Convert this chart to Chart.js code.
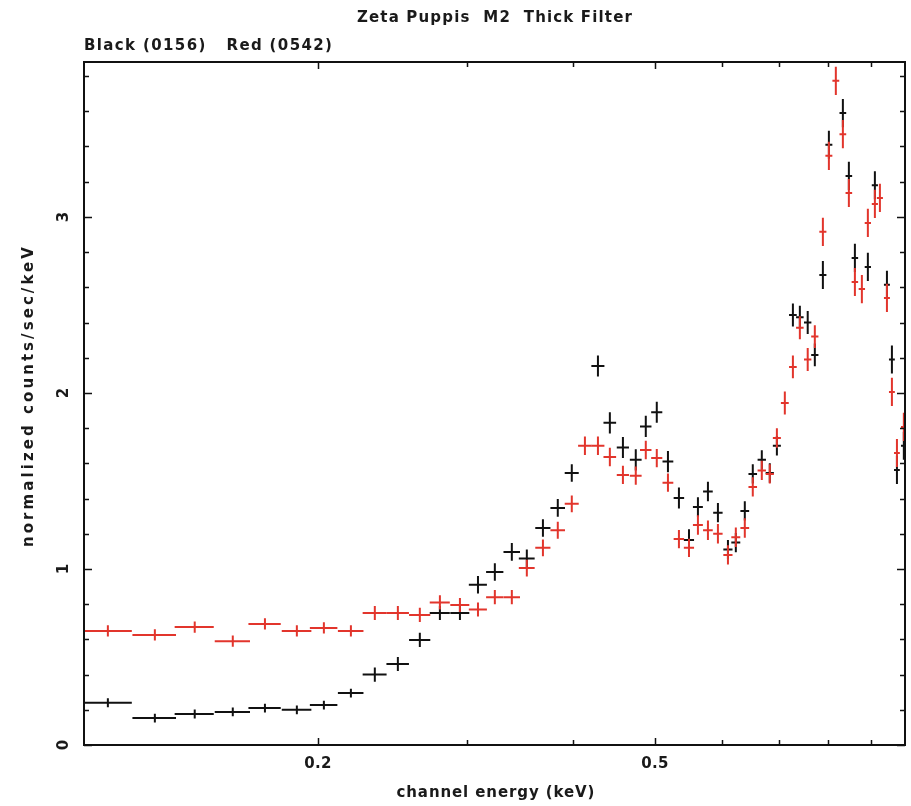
<!DOCTYPE html>
<html><head><meta charset="utf-8">
<script src="https://cdn.jsdelivr.net/npm/chart.js@4/dist/chart.umd.min.js"></script>
<style>html,body{margin:0;padding:0;background:#fff;}#wrap{width:911px;height:806px;position:relative;}</style>
</head><body><div id="wrap"><canvas id="c" width="911" height="806"></canvas></div>
<script>
const titleText = 'Zeta Puppis  M2  Thick Filter';
const subtitleText = 'Black (0156)   Red (0542)';
const xAxisTitle = 'channel energy (keV)';
const yAxisTitle = 'normalized counts/sec/keV';

const energy = [0.1130,0.1284,0.1431,0.1587,0.1732,0.1889,0.2033,0.2188,0.2335,0.2486,
  0.2639,0.2787,0.2943,0.3091,0.3236,0.3389,0.3530,0.3688,0.3840,0.3989,
  0.4134,0.4283,0.4424,0.4584,0.4747,0.4878,0.5026,0.5181,0.5338,0.5486,
  0.5621,0.5776,0.5935,0.6099,0.6231,0.6385,0.6525,0.6687,0.6834,0.6967,
  0.7119,0.7277,0.7416,0.7576,0.7724,0.7895,0.8025,0.8178,0.8336,0.8473,
  0.8613,0.8778,0.8922,0.9094,0.9219,0.9397,0.9525,0.9656,0.9839];
const binHalfWidth = 0.0076;

const blackRate = [0.24,0.153,0.176,0.188,0.21,0.20,0.227,0.295,0.40,0.46,
  0.597,0.75,0.75,0.91,0.983,1.097,1.06,1.233,1.347,1.545,
  null,2.153,1.83,1.69,1.62,1.81,1.89,1.61,1.403,1.165,
  1.352,1.44,1.32,1.11,1.15,1.33,1.54,1.62,1.545,1.70,
  null,2.443,2.43,2.40,2.216,2.67,3.41,null,3.59,3.233,
  2.767,null,2.716,3.18,null,2.614,2.19,1.5625,1.70];
const blackErr = [0.025,0.025,0.025,0.025,0.025,0.025,0.025,0.025,0.04,0.04,
  0.04,0.04,0.04,0.05,0.05,0.05,0.05,0.05,0.05,0.05,
  0.06,0.06,0.06,0.06,0.06,0.06,0.06,0.06,0.06,0.06,
  0.055,0.055,0.055,0.055,0.055,0.055,0.055,0.055,0.055,0.055,
  0.065,0.065,0.065,0.065,0.065,0.08,0.08,0.08,0.08,0.08,
  0.08,0.08,0.08,0.08,0.08,0.08,0.08,0.08,0.08];

const redRate = [0.648,0.625,0.67,0.59,0.688,0.648,0.665,0.648,0.75,0.75,
  0.739,0.81,0.795,0.77,0.84,0.84,1.005,1.12,1.22,1.37,
  1.70,1.70,1.636,1.534,1.53,1.676,1.63,1.49,1.17,1.12,
  1.25,1.22,1.20,1.08,1.18,1.233,1.466,1.56,1.54,1.744,
  1.943,2.148,2.37,2.19,2.32,2.915,3.347,3.773,3.47,3.136,
  2.63,2.59,2.966,3.074,3.108,2.54,2.006,1.659,1.807];
const redErr = [0.032,0.032,0.032,0.032,0.032,0.032,0.032,0.032,0.04,0.04,
  0.04,0.04,0.04,0.04,0.04,0.04,0.048,0.048,0.048,0.048,
  0.052,0.052,0.052,0.052,0.052,0.052,0.052,0.052,0.052,0.052,
  0.055,0.055,0.055,0.055,0.055,0.055,0.055,0.055,0.055,0.055,
  0.065,0.065,0.065,0.065,0.065,0.08,0.08,0.08,0.08,0.08,
  0.08,0.08,0.08,0.08,0.08,0.08,0.08,0.08,0.08];

const xMajorTicks = [0.2, 0.5];
const xMajorLabels = ['0.2', '0.5'];
const xMinorTicks = [0.3, 0.4, 0.6, 0.7, 0.8, 0.9];
const yMajorTicks = [0, 1, 2, 3];
const yMajorLabels = ['0', '1', '2', '3'];
const yMinorTicks = [0.2,0.4,0.6,0.8,1.2,1.4,1.6,1.8,2.2,2.4,2.6,2.8,3.2,3.4,3.6,3.8];
const xRange = [0.1059, 0.987];
const yRange = [0, 3.88];

const BLACK = '#111111';
const RED = '#e2352c';
const FONT = 'bold 15px "DejaVu Sans", sans-serif';

function pts(rate, err) {
  const out = [];
  for (let i = 0; i < energy.length; i++) {
    if (rate[i] === null) continue;
    out.push({x: energy[i], y: rate[i], xe: binHalfWidth, ye: err[i]});
  }
  return out;
}

// draw text stretched by letter spacing to span a given width
function spacedText(ctx, text, x, y, width, align) {
  ctx.letterSpacing = '0px';
  const w = ctx.measureText(text).width;
  const n = text.length;
  const sp = n > 1 ? (width - w) / (n - 1) : 0;
  ctx.letterSpacing = sp.toFixed(2) + 'px';
  const left = align === 'left' ? x : x - width / 2;
  ctx.textAlign = 'left';
  ctx.fillText(text, left, y);
  ctx.letterSpacing = '0px';
}

const drawPlugin = {
  id: 'pgplotLook',
  afterDatasetsDraw(chart) {
    const ctx = chart.ctx, a = chart.chartArea;
    const xs = chart.scales.x, ys = chart.scales.y;
    ctx.save();
    ctx.beginPath();
    ctx.rect(a.left, a.top, a.right - a.left, a.bottom - a.top);
    ctx.clip();
    chart.data.datasets.forEach(ds => {
      ctx.strokeStyle = ds.borderColor;
      ctx.lineWidth = 2;
      ctx.lineCap = 'butt';
      ds.data.forEach(p => {
        const x0 = xs.getPixelForValue(p.x - p.xe), x1 = xs.getPixelForValue(p.x + p.xe);
        const xc = xs.getPixelForValue(p.x);
        const yc = ys.getPixelForValue(p.y);
        const y0 = ys.getPixelForValue(p.y - p.ye), y1 = ys.getPixelForValue(p.y + p.ye);
        ctx.beginPath();
        ctx.moveTo(x0, yc); ctx.lineTo(x1, yc);
        ctx.moveTo(xc, y0); ctx.lineTo(xc, y1);
        ctx.stroke();
      });
    });
    ctx.restore();
  },
  afterDraw(chart) {
    const ctx = chart.ctx, a = chart.chartArea;
    const xs = chart.scales.x, ys = chart.scales.y;
    ctx.save();
    ctx.strokeStyle = BLACK;
    ctx.lineWidth = 2;
    ctx.strokeRect(a.left, a.top, a.right - a.left, a.bottom - a.top);
    ctx.lineWidth = 1.5;
    const tickX = (v, len) => {
      const px = Math.round(xs.getPixelForValue(v)) + 0.5;
      ctx.beginPath();
      ctx.moveTo(px, a.bottom); ctx.lineTo(px, a.bottom - len);
      ctx.moveTo(px, a.top); ctx.lineTo(px, a.top + len);
      ctx.stroke();
    };
    const tickY = (v, len) => {
      const py = Math.round(ys.getPixelForValue(v)) + 0.5;
      ctx.beginPath();
      ctx.moveTo(a.left, py); ctx.lineTo(a.left + len, py);
      ctx.moveTo(a.right, py); ctx.lineTo(a.right - len, py);
      ctx.stroke();
    };
    xMajorTicks.forEach(v => tickX(v, 7));
    xMinorTicks.forEach(v => tickX(v, 5));
    yMajorTicks.forEach(v => tickY(v, 8));
    yMinorTicks.forEach(v => tickY(v, 5));

    ctx.fillStyle = '#1a1a1a';
    ctx.font = FONT;
    ctx.textBaseline = 'middle';
    xMajorTicks.forEach((v, i) => {
      spacedText(ctx, xMajorLabels[i], xs.getPixelForValue(v), a.bottom + 19, 27, 'center');
    });
    ctx.textAlign = 'center';
    yMajorTicks.forEach((v, i) => {
      ctx.save();
      ctx.translate(a.left - 20, ys.getPixelForValue(v));
      ctx.rotate(-Math.PI / 2);
      ctx.textAlign = 'center';
      ctx.fillText(yMajorLabels[i], 0, 0);
      ctx.restore();
    });
    spacedText(ctx, xAxisTitle, (a.left + a.right) / 2 + 1, a.bottom + 48, 198, 'center');
    ctx.save();
    ctx.translate(29, 397);
    ctx.rotate(-Math.PI / 2);
    spacedText(ctx, yAxisTitle, 0, 0, 300, 'center');
    ctx.restore();
    spacedText(ctx, titleText, 494.5, 18.5, 275, 'center');
    spacedText(ctx, subtitleText, a.left, 46, 248, 'left');
    ctx.restore();
  }
};

new Chart(document.getElementById('c'), {
  type: 'scatter',
  data: {
    datasets: [
      {label: 'Black (0156)', data: pts(blackRate, blackErr), borderColor: BLACK, backgroundColor: BLACK, pointRadius: 0, showLine: false},
      {label: 'Red (0542)', data: pts(redRate, redErr), borderColor: RED, backgroundColor: RED, pointRadius: 0, showLine: false}
    ]
  },
  options: {
    responsive: false,
    animation: false,
    events: [],
    layout: {padding: {left: 84, right: 6, top: 62, bottom: 61}},
    plugins: {legend: {display: false}, tooltip: {enabled: false}, title: {display: false}},
    scales: {
      x: {type: 'logarithmic', min: xRange[0], max: xRange[1], display: false},
      y: {type: 'linear', min: yRange[0], max: yRange[1], display: false}
    }
  },
  plugins: [drawPlugin]
});
</script>
</body></html>
